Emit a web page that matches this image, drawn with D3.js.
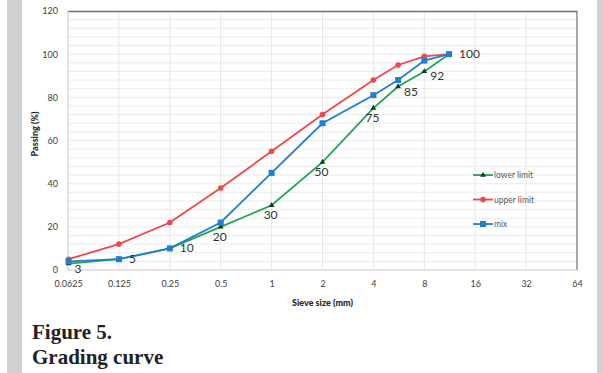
<!DOCTYPE html>
<html>
<head>
<meta charset="utf-8">
<script src="https://cdn.jsdelivr.net/npm/d3@7"></script>
<style>
  body { margin: 0; background: #fff; }
  svg { display: block; }
</style>
</head>
<body>
<div id="chart"></div>
<script>
// sieve sizes (mm) and passing (%)
const sieves = [0.063, 0.125, 0.25, 0.5, 1, 2, 4, 5.6, 8, 11.2];
const lowerLimit = [3, 5, 10, 20, 30, 50, 75, 85, 92, 100];
const upperLimit = [5, 12, 22, 38, 55, 72, 88, 95, 99, 100];
const mix = [4, 5, 10, 22, 45, 68, 81, 88, 97, 100];
const xTicks = [0.0625, 0.125, 0.25, 0.5, 1, 2, 4, 8, 16, 32, 64];
const xTickLabels = ["0.0625", "0.125", "0.25", "0.5", "1", "2", "4", "8", "16", "32", "64"];
const yTicks = [0, 20, 40, 60, 80, 100, 120];
// where each lower-limit label sits relative to its point
const labelPlace = ["rb", "r", "r", "b", "b", "b", "b", "rb", "rb", "r"];

const width = 603, height = 373;
const margin = { top: 11, right: 26, bottom: 103, left: 68 };
const innerW = width - margin.left - margin.right;
const innerH = height - margin.top - margin.bottom;
const font = "Lato, 'Open Sans', sans-serif";

const svg = d3.select("#chart").append("svg")
    .attr("width", width)
    .attr("height", height);

// grey page bands
svg.append("rect").attr("x", 7).attr("y", 0).attr("width", 15).attr("height", height).attr("fill", "#d0d1d3");
svg.append("rect").attr("x", 597).attr("y", 0).attr("width", 6).attr("height", height).attr("fill", "#d0d1d3");

const g = svg.append("g").attr("transform", `translate(${margin.left},${margin.top})`);

const x = d3.scaleLog().base(2).domain([0.0625, 64]).range([0, innerW]);
const y = d3.scaleLinear().domain([0, 120]).range([innerH, 0]);

// minor horizontal grid every 4%
g.append("g")
    .selectAll("line")
    .data(d3.range(4, 120, 4))
    .join("line")
    .attr("x1", 0).attr("x2", innerW)
    .attr("y1", d => y(d)).attr("y2", d => y(d))
    .attr("stroke", "#ececec")
    .attr("stroke-width", 1);

// vertical grid
g.append("g")
    .selectAll("line")
    .data(xTicks.slice(1, -1))
    .join("line")
    .attr("x1", d => x(d)).attr("x2", d => x(d))
    .attr("y1", 0).attr("y2", innerH)
    .attr("stroke", "#e6e6e6")
    .attr("stroke-width", 1);

// frame: top and right darker, left and bottom light
g.append("line").attr("x1", 0).attr("x2", innerW).attr("y1", 0.5).attr("y2", 0.5)
    .attr("stroke", "#6e6e6e").attr("stroke-width", 1.5);
g.append("line").attr("x1", innerW).attr("x2", innerW).attr("y1", 0).attr("y2", innerH)
    .attr("stroke", "#6e6e6e").attr("stroke-width", 1.2);
g.append("line").attr("x1", 0).attr("x2", 0).attr("y1", 0).attr("y2", innerH)
    .attr("stroke", "#c8c8c8").attr("stroke-width", 1);
g.append("line").attr("x1", 0).attr("x2", innerW).attr("y1", innerH).attr("y2", innerH)
    .attr("stroke", "#c8c8c8").attr("stroke-width", 1);

// axes
const yAxis = g.append("g")
    .call(d3.axisLeft(y).tickValues(yTicks).tickSize(0).tickPadding(10));
yAxis.select(".domain").remove();
yAxis.selectAll("text")
    .style("font-family", font)
    .style("font-size", "9px")
    .attr("fill", "#404040");

const xAxis = g.append("g")
    .attr("transform", `translate(0,${innerH})`)
    .call(d3.axisBottom(x).tickValues(xTicks).tickFormat((d, i) => xTickLabels[i]).tickSize(0).tickPadding(11));
xAxis.select(".domain").remove();
xAxis.selectAll("text")
    .style("font-family", font)
    .style("font-size", "9px")
    .attr("fill", "#404040");

// axis titles
g.append("text")
    .attr("x", x(2))
    .attr("y", innerH + 36)
    .attr("text-anchor", "middle")
    .style("font-family", font)
    .style("font-size", "9px")
    .style("font-weight", "900")
    .attr("fill", "#262626")
    .text("Sieve size (mm)");

g.append("text")
    .attr("transform", `translate(${-30},${y(63)}) rotate(-90)`)
    .attr("text-anchor", "middle")
    .style("font-family", font)
    .style("font-size", "9px")
    .style("font-weight", "900")
    .attr("fill", "#262626")
    .text("Passing (%)");

const series = [
    { name: "lower limit", values: lowerLimit, color: "#1fa652", marker: "triangle" },
    { name: "upper limit", values: upperLimit, color: "#f04848", marker: "circle" },
    { name: "mix", values: mix, color: "#1f7fd0", marker: "square" }
];

const line = d3.line()
    .x(d => x(d[0]))
    .y(d => y(d[1]));

function drawMarker(sel, s) {
    if (s.marker === "triangle") {
        sel.append("path")
            .attr("d", d3.symbol(d3.symbolTriangle, 14)())
            .attr("fill", "#0c3b1c");
    } else if (s.marker === "circle") {
        sel.append("circle").attr("r", 2.8).attr("fill", s.color);
    } else {
        sel.append("rect").attr("x", -3).attr("y", -3).attr("width", 6).attr("height", 6).attr("fill", s.color);
    }
}

// draw lower first, then upper, then mix on top
series.forEach(s => {
    const pts = sieves.map((v, i) => [v, s.values[i]]);
    g.append("path")
        .datum(pts)
        .attr("fill", "none")
        .attr("stroke", s.color)
        .attr("stroke-width", 1.8)
        .attr("d", line);
    g.append("g")
        .selectAll("g")
        .data(pts)
        .join("g")
        .attr("transform", d => `translate(${x(d[0])},${y(d[1])})`)
        .each(function () { drawMarker(d3.select(this), s); });
});

// data labels for lower limit
const offsets = { r: [10, 4], rb: [6, 9], b: [-1, 14] };
g.append("g")
    .selectAll("text")
    .data(sieves)
    .join("text")
    .attr("x", (d, i) => x(d) + offsets[labelPlace[i]][0])
    .attr("y", (d, i) => y(lowerLimit[i]) + offsets[labelPlace[i]][1])
    .attr("text-anchor", (d, i) => labelPlace[i] === "b" ? "middle" : "start")
    .style("font-family", font)
    .style("font-size", "12px")
    .attr("fill", "#333")
    .text((d, i) => lowerLimit[i]);

// legend
const legend = g.append("g").attr("transform", `translate(${x(11.2) + 24},${y(44)})`);
series.forEach((s, i) => {
    const row = legend.append("g").attr("transform", `translate(0,${i * 24.5})`);
    row.append("line").attr("x1", 0).attr("x2", 20).attr("stroke", s.color).attr("stroke-width", 1.8);
    const m = row.append("g").attr("transform", "translate(10,0)");
    drawMarker(m, s);
    row.append("text")
        .attr("x", 21)
        .attr("y", 3)
        .style("font-family", font)
        .style("font-size", "8.5px")
        .attr("fill", "#595959")
        .text(s.name);
});

// caption
svg.append("text")
    .attr("x", 32).attr("y", 339)
    .style("font-family", "'Liberation Serif', 'DejaVu Serif', serif")
    .style("font-size", "21px")
    .style("font-weight", "bold")
    .attr("fill", "#222")
    .text("Figure 5.");
svg.append("text")
    .attr("x", 32).attr("y", 364)
    .style("font-family", "'Liberation Serif', 'DejaVu Serif', serif")
    .style("font-size", "21px")
    .style("font-weight", "bold")
    .attr("fill", "#222")
    .text("Grading curve");
</script>
</body>
</html>
